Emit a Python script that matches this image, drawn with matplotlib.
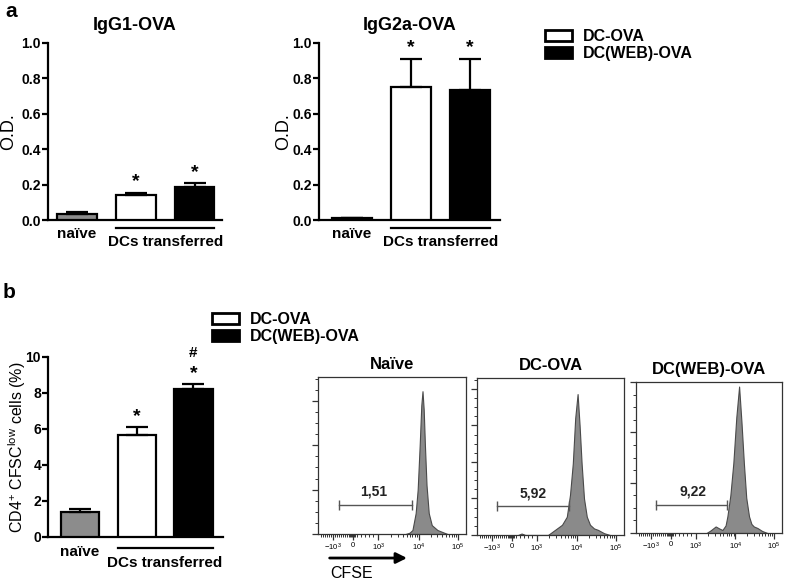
import matplotlib
matplotlib.use('Agg')
import matplotlib.pyplot as plt
import matplotlib.transforms as mtransforms
from matplotlib.patches import Patch
import numpy as np

plt.rcParams['font.family'] = ['Liberation Sans', 'DejaVu Sans']
plt.rcParams['mathtext.fontset'] = 'custom'
plt.rcParams['mathtext.rm'] = 'Liberation Sans'
plt.rcParams['mathtext.it'] = 'Liberation Sans:italic'
plt.rcParams['mathtext.bf'] = 'Liberation Sans:bold'

# ---------------- data ----------------
groups = ['naïve', 'DC-OVA', 'DC(WEB)-OVA']
bar_colors = ['#8c8c8c', 'white', 'black']

igg1_mean = [0.035, 0.141, 0.188]
igg1_err = [0.013, 0.013, 0.022]
igg1_star = [None, 0.245, 0.296]

igg2a_mean = [0.010, 0.752, 0.737]
igg2a_err = [0.003, 0.160, 0.175]
igg2a_star = [None, 1.005, 1.005]

prolif_mean = [1.41, 5.65, 8.22]
prolif_err = [0.13, 0.48, 0.28]
prolif_star = [None, 7.0, 9.39]
prolif_hash = [None, None, 10.4]

od_ticks = [0.0, 0.2, 0.4, 0.6, 0.8, 1.0]
prolif_ticks = [0, 2, 4, 6, 8, 10]

# flow cytometry histograms (x in display units of the biexponential CFSE axis)
flow_titles = ['Naïve', 'DC-OVA', 'DC(WEB)-OVA']
naive_x = [1.30, 1.40, 1.47, 1.55, 1.60, 1.65, 1.69, 1.72, 1.75, 1.78, 1.82, 1.875, 1.95, 2.09, 2.20, 2.34]
naive_y = [0, 3, 9, 47, 100, 200, 290, 322, 280, 200, 110, 47, 20, 9, 5, 0]
dcova_x = [0.15, 0.24, 0.33, 0.90, 1.075, 1.25, 1.37, 1.45, 1.52, 1.58, 1.64, 1.69, 1.74, 1.80, 1.87, 1.95, 2.05, 2.15, 2.30, 2.45]
dcova_y = [0, 4, 0, 0, 14, 28, 50, 110, 196, 320, 386, 300, 196, 100, 50, 28, 18, 14, 5, 0]
web_x = [0.90, 1.00, 1.13, 1.22, 1.30, 1.38, 1.425, 1.50, 1.575, 1.65, 1.72, 1.78, 1.84, 1.90, 1.97, 2.03, 2.09, 2.18, 2.30, 2.43]
web_y = [0, 5, 13, 9, 6, 15, 33, 75, 139, 230, 291, 220, 139, 70, 33, 18, 13, 10, 4, 0]
flow_x = [naive_x, dcova_x, web_x]
flow_y = [naive_y, dcova_y, web_y]
flow_ymax = [354, 430, 300]
gate_lo = [-0.35, -0.375, -0.375]
gate_hi = [1.45, 1.425, 1.425]
gate_y = [65, 79, 56]
gate_pct = ['1,51', '5,92', '9,22']
gate_lbl_x = [0.50, 0.53, 0.55]
gate_lbl_y = [95, 115, 83]

cfse_tick_pos = [-0.5, 0.0, 0.625, 1.625, 2.6]
cfse_tick_lbl = ['$-10^{3}$', '0', '$10^{3}$', '$10^{4}$', '$10^{5}$']

# ---------------- figure ----------------
W, H = 787, 583
fig = plt.figure(figsize=(W / 100, H / 100), dpi=100)


def add_ax(l, t, r, b):
    return fig.add_axes([l / W, 1 - b / H, (r - l) / W, (b - t) / H])


def bar_panel(ax, means, errs, stars, ticks, tick_fmt, ylabel, xlim, width,
              lab_y, under_y, dcs_y, ylabel_x, title=None, hashes=None):
    x = np.arange(len(means))
    ax.bar(x, means, width=width, color=bar_colors, edgecolor='black',
           linewidth=1.6, zorder=3)
    ax.errorbar(x, means, yerr=[np.zeros(len(errs)), errs], fmt='none',
                ecolor='black', elinewidth=1.6, capsize=8, capthick=1.6, zorder=4)
    ax.set_xlim(*xlim)
    ax.set_ylim(ticks[0], ticks[-1])
    for s in ['top', 'right']:
        ax.spines[s].set_visible(False)
    for s in ['left', 'bottom']:
        ax.spines[s].set_linewidth(1.6)
    ax.set_yticks(ticks, labels=[tick_fmt.format(t) for t in ticks],
                  fontweight='bold', fontsize=10)
    ax.tick_params(axis='y', direction='out', length=4, width=1.6, pad=1)
    ax.tick_params(axis='x', bottom=False, labelbottom=False)
    ax.set_ylabel(ylabel, fontsize=13 if ylabel == 'O.D.' else 11.5)
    ax.yaxis.set_label_coords(ylabel_x, 0.5)
    tr = mtransforms.blended_transform_factory(ax.transData, ax.transAxes)
    ax.text(x[0], lab_y, 'naïve', transform=tr, ha='center', va='center',
            fontweight='bold', fontsize=11)
    ax.plot([x[1] - width / 2, x[2] + width / 2], [under_y, under_y],
            transform=tr, color='black', lw=1.6, clip_on=False)
    ax.text((x[1] + x[2]) / 2, dcs_y, 'DCs transferred', transform=tr,
            ha='center', va='center', fontweight='bold', fontsize=11)
    for xi, sy in zip(x, stars):
        if sy is not None:
            ax.annotate('*', xy=(xi, sy), xytext=(0, -7), textcoords='offset points',
                        ha='center', va='baseline', fontsize=14, fontweight='bold',
                        annotation_clip=False)
    if hashes:
        for xi, hy in zip(x, hashes):
            if hy is not None:
                ax.annotate('#', xy=(xi, hy), xytext=(0, -5), textcoords='offset points',
                            ha='center', va='baseline', fontsize=11, fontweight='bold',
                            annotation_clip=False)
    if title:
        ax.set_title(title, fontsize=13, fontweight='bold', pad=9)


# Panel a
ax1 = add_ax(48, 43, 222, 220)
bar_panel(ax1, igg1_mean, igg1_err, igg1_star, od_ticks, '{:.1f}', 'O.D.',
          (-0.494, 2.468), 0.68, -0.079, -0.045, -0.124, -0.178, title='IgG1-OVA')
ax2 = add_ax(319, 43, 500, 220)
bar_panel(ax2, igg2a_mean, igg2a_err, igg2a_star, od_ticks, '{:.1f}', 'O.D.',
          (-0.56, 2.51), 0.69, -0.079, -0.045, -0.124, -0.15, title='IgG2a-OVA')

# Panel b bar chart
ax3 = add_ax(48, 357, 223, 537)
bar_panel(ax3, prolif_mean, prolif_err, prolif_star, prolif_ticks, '{:d}',
          'CD4$^{+}$ CFSC$^{\\mathrm{low}}$ cells (%)',
          (-0.564, 2.52), 0.67, -0.083, -0.061, -0.144, -0.115, hashes=prolif_hash)

# legends
leg_kw = dict(loc='upper left', frameon=False, prop=dict(weight='bold', size=11.5),
              handlelength=1.7, handleheight=0.65, handletextpad=0.7,
              labelspacing=0.15, borderaxespad=0, borderpad=0)
handles = [Patch(facecolor='white', edgecolor='black', linewidth=2, label='DC-OVA'),
           Patch(facecolor='black', edgecolor='black', linewidth=2, label='DC(WEB)-OVA')]
fig.legend(handles=handles, bbox_to_anchor=(545 / W, 1 - 29 / H), **leg_kw)
fig.legend(handles=handles, bbox_to_anchor=(212 / W, 1 - 312 / H), **leg_kw)

# Flow panels
boxes = [(318, 377, 466, 534), (477, 378, 624, 535), (636, 382, 782, 533)]
minor_x = [-0.8, -0.75, -0.7, -0.65, -0.6, -0.55, -0.45, -0.4, -0.35, -0.3, -0.25, -0.2,
           -0.15, -0.1, -0.07, -0.05, -0.03, 0.03, 0.05, 0.1, 0.2, 0.3, 0.4, 0.5]
minor_x += [0.625 + np.log10(k) for k in range(2, 10)]
minor_x += [1.625 + 0.975 * np.log10(k) for k in range(2, 10)]
flow_axes = []
for i, (l, t, r, b) in enumerate(boxes):
    ax = add_ax(l, t, r, b)
    flow_axes.append(ax)
    ax.fill_between(flow_x[i], flow_y[i], 0, facecolor='#8a8a8a',
                    edgecolor='#4a4a4a', linewidth=0.8)
    ax.set_xlim(-0.875, 2.8)
    ax.set_ylim(0, flow_ymax[i])
    for s in ax.spines.values():
        s.set_linewidth(0.9)
        s.set_color('#333333')
    ax.set_xticks(cfse_tick_pos, labels=cfse_tick_lbl, fontsize=5.5)
    ax.set_xticks(minor_x, minor=True)
    ax.set_yticks(np.arange(0, flow_ymax[i] + 1, 100), labels=[])
    ax.set_yticks(np.arange(0, flow_ymax[i] + 1, 25), minor=True)
    ax.tick_params(which='major', direction='out', length=4, width=0.9,
                   color='#333333', pad=1.5)
    ax.tick_params(which='minor', direction='out', length=2, width=0.7,
                   color='#333333')
    ax.plot([gate_lo[i], gate_hi[i]], [gate_y[i], gate_y[i]], color='#555555',
            lw=1.0, marker='|', markersize=7, markeredgewidth=1.0)
    ax.text(gate_lbl_x[i], gate_lbl_y[i], gate_pct[i], ha='center', va='center',
            fontsize=10, fontweight='bold', color='#222222')
    ax.set_title(flow_titles[i], fontsize=12, fontweight='bold', pad=6)

axn = flow_axes[0]
axn.annotate('', xy=(0.62, -0.153), xytext=(0.06, -0.153), xycoords='axes fraction',
             textcoords='axes fraction',
             arrowprops=dict(arrowstyle='-|>', lw=2, color='black', mutation_scale=16))
axn.text(0.23, -0.25, 'CFSE', transform=axn.transAxes, ha='center', va='center',
         fontsize=11.5)

fig.text(5 / W, 1 - 2 / H, 'a', fontsize=15, fontweight='bold', ha='left', va='top')
fig.text(3 / W, 1 - 283 / H, 'b', fontsize=15, fontweight='bold', ha='left', va='top')

fig.savefig('out.png', dpi=100)
